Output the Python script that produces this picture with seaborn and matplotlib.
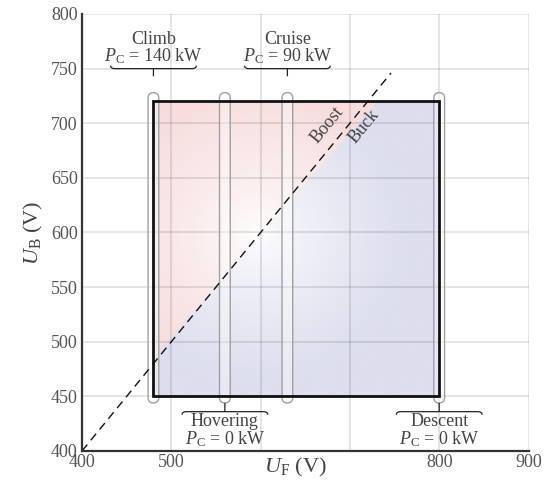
import numpy as np
import matplotlib
matplotlib.use("Agg")
import matplotlib.pyplot as plt
import seaborn as sns
from matplotlib.patches import FancyBboxPatch, Rectangle, PathPatch
from matplotlib.path import Path

# ---- data -------------------------------------------------------------
modes = ["Climb", "Hovering", "Cruise", "Descent"]
mode_uf = [480, 560, 630, 800]          # fuel-cell voltage at each flight mode (V)
mode_pc = [140, 0, 90, 0]               # converter power (kW)
mode_side = ["top", "bottom", "top", "bottom"]

uf_range = [480, 800]                   # operating window, U_F (V)
ub_range = [450, 720]                   # operating window, U_B (V)

diag_uf = [400, 746]                    # U_B = U_F boundary
diag_ub = [400, 746]
split_uf = [480, 731]                   # boost / buck colour split
split_ub = [485, 720]

x_ticks = [400, 500, 600, 700, 800, 900]
x_ticklabels = ["400", "500", "", "", "800", "900"]
y_ticks = [400, 450, 500, 550, 600, 650, 700, 750, 800]

# ---- style ------------------------------------------------------------
sns.set_theme(style="white")
plt.rcParams["font.family"] = ["Liberation Serif", "DejaVu Serif"]
plt.rcParams["mathtext.fontset"] = "custom"
plt.rcParams["mathtext.rm"] = "Liberation Serif"
plt.rcParams["mathtext.it"] = "Liberation Serif:italic"

TXT = "#444444"
AX = "#333333"

fig = plt.figure(figsize=(5.51, 4.84), dpi=100)
ax = fig.add_axes([82 / 551, 1 - 451 / 484, (528.5 - 82) / 551, (451 - 14) / 484])
ax.set_xlim(400, 900)
ax.set_ylim(400, 800)

# pixel scale of each axis
p0 = ax.transData.transform((0, 0))
p1 = ax.transData.transform((1, 1))
sx, sy = p1 - p0

# ---- gradient fill of the operating window ---------------------------
nx, ny = 400, 340
gx = np.linspace(uf_range[0], uf_range[1], nx)
gy = np.linspace(ub_range[0], ub_range[1], ny)
GX, GY = np.meshgrid(gx, gy)
slope = (split_ub[1] - split_ub[0]) / (split_uf[1] - split_uf[0])
boost = GY > split_ub[0] + slope * (GX - split_uf[0])
pink = np.array([247, 221, 221]) / 255
blue = np.array([221, 222, 238]) / 255
base = np.where(boost[..., None], pink, blue)
r = np.hypot((GX - 597) * sx, (GY - 598) * sy)
t = np.clip(r / 150, 0, 1) ** 0.7
img = (1 - t[..., None]) * 1.0 + t[..., None] * base
ax.imshow(img, origin="lower", extent=[uf_range[0], uf_range[1], ub_range[0], ub_range[1]],
          aspect="auto", zorder=1, interpolation="bilinear")

# ---- grid, spines, ticks ---------------------------------------------
ax.set_axisbelow(False)
ax.grid(True, color="black", alpha=0.12, lw=1.2, zorder=2)
ax.set_xticks(x_ticks)
ax.set_xticklabels(x_ticklabels)
ax.set_yticks(y_ticks)
for s in ["top", "right"]:
    ax.spines[s].set_visible(False)
for s in ["left", "bottom"]:
    ax.spines[s].set_color(AX)
    ax.spines[s].set_linewidth(1.6)
    ax.spines[s].set_zorder(6)
ax.tick_params(direction="in", length=4, width=1.4, color=AX, labelsize=13,
               labelcolor="#555555", pad=3)
ax.tick_params(axis="x", pad=2)

ax.set_xlabel(r"$U_\mathrm{F}$ (V)", fontsize=16, color=TXT)
ax.set_ylabel(r"$U_\mathrm{B}$ (V)", fontsize=16, color=TXT, labelpad=4)
ax.xaxis.set_label_coords(0.478, -0.012)

# ---- capsules marking each flight mode --------------------------------
half_w = 6
aspect = sx / sy
for uf in mode_uf:
    cap = FancyBboxPatch((uf - half_w, ub_range[0] - 6), 2 * half_w, ub_range[1] - ub_range[0] + 14,
                         boxstyle=f"round,pad=0,rounding_size={half_w}",
                         mutation_aspect=aspect, fc=(1, 1, 1, 0.35), ec="#a0a0a0",
                         lw=1.0, zorder=3)
    ax.add_patch(cap)

# operating window outline
ax.add_patch(Rectangle((uf_range[0], ub_range[0]), uf_range[1] - uf_range[0],
                       ub_range[1] - ub_range[0], fill=False, ec="#111111", lw=2.0, zorder=4))

# boost / buck boundary
sns.lineplot(x=diag_uf, y=diag_ub, ax=ax, color="#111111", lw=1.0, zorder=5)
ax.lines[-1].set_dashes((6, 4))

ang = np.degrees(np.arctan2(sy, sx))
ax.text(675, 698, "Boost", rotation=ang, rotation_mode="anchor", ha="center", va="center",
        fontsize=13, color=TXT, zorder=6)
ax.text(716, 697, "Buck", rotation=ang, rotation_mode="anchor", ha="center", va="center",
        fontsize=13, color=TXT, zorder=6)

# ---- braces and mode labels ------------------------------------------
bw = 48
cw, ch = 4.5, 2.8
for name, uf, pc, side in zip(modes, mode_uf, mode_pc, mode_side):
    if side == "top":
        y0, d, tick = 750, ch, -7
        y_name, y_pc = y0 + 27, y0 + 11
    else:
        y0, d, tick = 436, -ch, 8
        y_name, y_pc = y0 - 9, y0 - 25
    verts = [(uf - bw, y0 + d), (uf - bw, y0), (uf - bw + cw, y0),
             (uf + bw - cw, y0),
             (uf + bw, y0), (uf + bw, y0 + d),
             (uf, y0), (uf, y0 + tick)]
    codes = [Path.MOVETO, Path.CURVE3, Path.CURVE3, Path.LINETO,
             Path.CURVE3, Path.CURVE3, Path.MOVETO, Path.LINETO]
    ax.add_patch(PathPatch(Path(verts, codes), fc="none", ec="#222222", lw=0.9,
                           zorder=5, clip_on=False))
    ax.text(uf, y_name, name, ha="center", va="center", fontsize=13, color=TXT, clip_on=False)
    ax.text(uf, y_pc, rf"$P_\mathrm{{C}}$ = {pc} kW", ha="center", va="center",
            fontsize=13, color=TXT, clip_on=False)

fig.savefig("out.png", dpi=100)
